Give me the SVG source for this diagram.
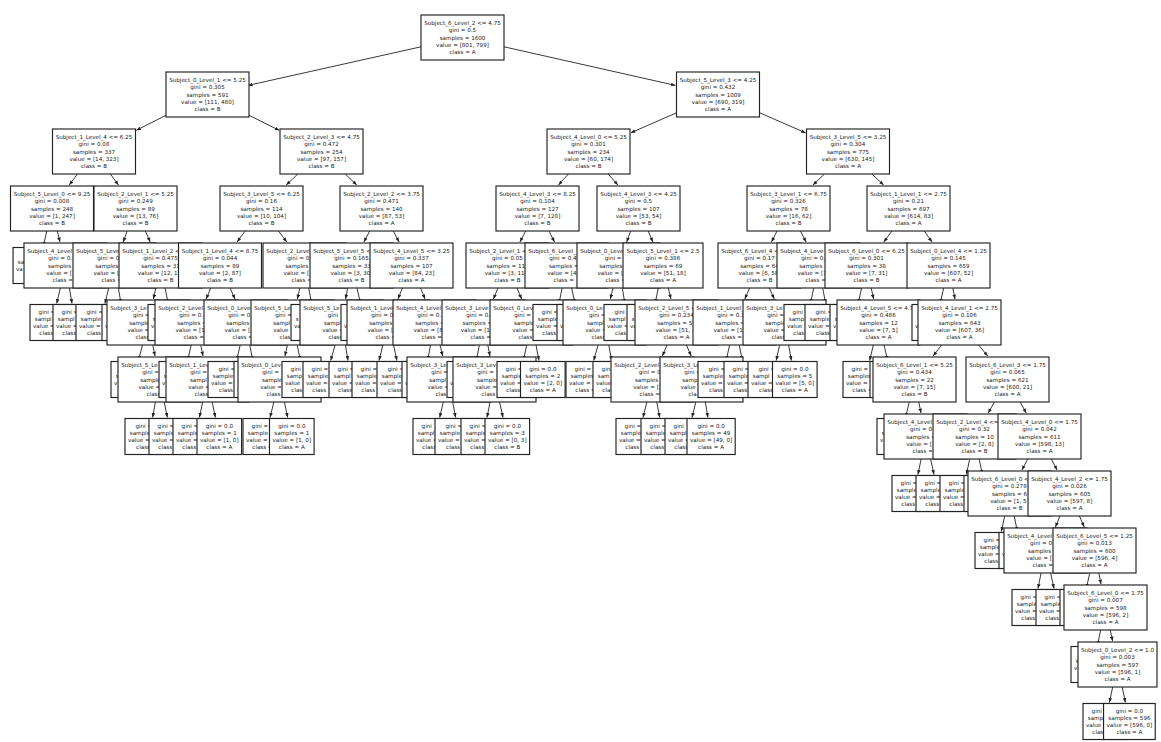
<svg xmlns="http://www.w3.org/2000/svg" width="1161" height="742" viewBox="0 0 1161 742">
<style>
#nodes rect{fill:#fff;stroke:#222;stroke-width:1.15}
#nodes text{font-family:"DejaVu Sans","Liberation Sans",sans-serif;font-size:5.6px;text-anchor:middle;fill:#1a1a1a}
#nodes text.p{text-anchor:start}
#edges line{stroke:#222;stroke-width:0.9;marker-end:url(#ah)}
</style>
<defs>
<marker id="ah" viewBox="0 0 10 10" refX="10" refY="5" markerUnits="userSpaceOnUse" markerWidth="4.5" markerHeight="4.5" orient="auto"><path d="M0,1 L10,5 L0,9 z" fill="#222"/></marker>
</defs>
<rect width="1161" height="742" fill="#fff"/>
<g id="edges">
<line x1="421" y1="46.8" x2="248" y2="85.4"/><line x1="504" y1="46.8" x2="675.5" y2="85.4"/>
<line x1="166" y1="115.3" x2="136.3" y2="130.3"/><line x1="249" y1="115.3" x2="279.2" y2="130.3"/>
<line x1="676.5" y1="112.8" x2="630.8" y2="132.8"/><line x1="759.5" y1="112.7" x2="805.7" y2="132.9"/>
<line x1="77.4" y1="174" x2="69.3" y2="185"/><line x1="110.4" y1="174" x2="118.4" y2="185"/>
<line x1="297.8" y1="174" x2="286.2" y2="185"/><line x1="345.2" y1="174" x2="356.8" y2="185"/>
<line x1="568.4" y1="174" x2="558.5" y2="185"/><line x1="608.2" y1="174" x2="617.9" y2="185"/>
<line x1="824.5" y1="174" x2="813" y2="185"/><line x1="871.9" y1="174" x2="883.6" y2="185"/>
<line x1="46.8" y1="231" x2="43.3" y2="246.5"/><line x1="57.3" y1="231" x2="59.9" y2="242"/>
<line x1="127.2" y1="231" x2="123.2" y2="242"/><line x1="145.4" y1="231" x2="150.2" y2="242"/>
<line x1="245.1" y1="231" x2="237.1" y2="242"/><line x1="278.5" y1="231" x2="286.8" y2="242"/>
<line x1="369.7" y1="231" x2="363.9" y2="242"/><line x1="393.3" y1="231" x2="399.1" y2="242"/>
<line x1="525.7" y1="231" x2="519.9" y2="242"/><line x1="549" y1="231" x2="554.5" y2="242"/>
<line x1="630.6" y1="231" x2="626.7" y2="242"/><line x1="648.2" y1="231" x2="652.9" y2="242"/>
<line x1="777" y1="231" x2="771.5" y2="242"/><line x1="800.4" y1="231" x2="806.1" y2="242"/>
<line x1="891.9" y1="231" x2="883.8" y2="242"/><line x1="924.3" y1="231" x2="932" y2="242"/>
<line x1="60.3" y1="288" x2="56.7" y2="303.5"/><line x1="69.4" y1="288" x2="72" y2="303.5"/>
<line x1="108.8" y1="288" x2="104.9" y2="303.5"/><line x1="118.4" y1="288" x2="121" y2="303.5"/>
<line x1="155.8" y1="288" x2="153.4" y2="299"/><line x1="165.1" y1="288" x2="168.2" y2="303.5"/>
<line x1="210.7" y1="288" x2="206.2" y2="299"/><line x1="230.1" y1="288" x2="235" y2="299"/>
<line x1="299.8" y1="288" x2="297.4" y2="299"/><line x1="308.7" y1="288" x2="311.6" y2="303.5"/>
<line x1="347.6" y1="288" x2="345.6" y2="299"/><line x1="356.9" y1="288" x2="360.6" y2="303.5"/>
<line x1="402.4" y1="288" x2="398" y2="299"/><line x1="420.6" y1="288" x2="425" y2="299"/>
<line x1="498" y1="288" x2="493.4" y2="299"/><line x1="517" y1="288" x2="521.6" y2="299"/>
<line x1="562.1" y1="288" x2="559" y2="303.5"/><line x1="571.6" y1="288" x2="575" y2="303.5"/>
<line x1="613" y1="288" x2="610.3" y2="299"/><line x1="622.3" y1="288" x2="624.9" y2="303.5"/>
<line x1="658.3" y1="288" x2="655.1" y2="303.5"/><line x1="668.3" y1="288" x2="670.9" y2="299"/>
<line x1="749.6" y1="288" x2="744.8" y2="299"/><line x1="769.4" y1="288" x2="774.2" y2="299"/>
<line x1="813.7" y1="288" x2="810.4" y2="303.5"/><line x1="822.7" y1="288" x2="825.6" y2="303.5"/>
<line x1="861.6" y1="288" x2="858.2" y2="303.5"/><line x1="871.2" y1="288" x2="873.6" y2="299"/>
<line x1="943.6" y1="288" x2="940.2" y2="303.5"/><line x1="952.8" y1="288" x2="955" y2="299"/>
<line x1="142.5" y1="345" x2="138.4" y2="360.5"/><line x1="152.8" y1="345" x2="155" y2="356"/>
<line x1="191.2" y1="345" x2="187.6" y2="360.5"/><line x1="200.8" y1="345" x2="203" y2="356"/>
<line x1="240.2" y1="345" x2="236.6" y2="360.5"/><line x1="249.8" y1="345" x2="252.7" y2="360.5"/>
<line x1="287.4" y1="345" x2="284.9" y2="356"/><line x1="297.2" y1="345" x2="300.4" y2="360.5"/>
<line x1="335.1" y1="345" x2="330.7" y2="360.5"/><line x1="345.4" y1="345" x2="348" y2="360.5"/>
<line x1="382.9" y1="345" x2="379" y2="360.5"/><line x1="393.5" y1="345" x2="396.9" y2="360.5"/>
<line x1="430.5" y1="345" x2="427.7" y2="360.5"/><line x1="440" y1="345" x2="442.7" y2="356"/>
<line x1="479.3" y1="345" x2="476.4" y2="360.5"/><line x1="487.8" y1="345" x2="490" y2="356"/>
<line x1="526.7" y1="345" x2="523.4" y2="360.5"/><line x1="536" y1="345" x2="539" y2="360.5"/>
<line x1="598.1" y1="345" x2="593.7" y2="360.5"/><line x1="608.8" y1="345" x2="611.7" y2="360.5"/>
<line x1="667" y1="345" x2="662.4" y2="356"/><line x1="686.4" y1="345" x2="691.2" y2="356"/>
<line x1="729.6" y1="345" x2="726.2" y2="360.5"/><line x1="739.2" y1="345" x2="742.4" y2="360.5"/>
<line x1="779.6" y1="345" x2="776.2" y2="360.5"/><line x1="788.6" y1="345" x2="791.4" y2="360.5"/>
<line x1="873.3" y1="345" x2="869.7" y2="360.5"/><line x1="884" y1="345" x2="887.7" y2="360.5"/>
<line x1="941.7" y1="345" x2="933.1" y2="356"/><line x1="978.5" y1="345" x2="987.7" y2="356"/>
<line x1="155.4" y1="402" x2="152.6" y2="417.5"/><line x1="164.2" y1="402" x2="167.4" y2="417.5"/>
<line x1="202.7" y1="402" x2="199.4" y2="417.5"/><line x1="212.2" y1="402" x2="215.4" y2="417.5"/>
<line x1="273.9" y1="402" x2="270" y2="417.5"/><line x1="284.4" y1="402" x2="287.7" y2="417.5"/>
<line x1="443.3" y1="402" x2="439.7" y2="417.5"/><line x1="452.7" y1="402" x2="455.6" y2="417.5"/>
<line x1="490.1" y1="402" x2="487" y2="417.5"/><line x1="499.6" y1="402" x2="503" y2="417.5"/>
<line x1="646.9" y1="402" x2="643" y2="417.5"/><line x1="656.8" y1="402" x2="659.7" y2="417.5"/>
<line x1="695.9" y1="402" x2="692" y2="417.5"/><line x1="705.3" y1="402" x2="707.9" y2="417.5"/>
<line x1="909.2" y1="402" x2="905.6" y2="417.5"/><line x1="918.8" y1="402" x2="921" y2="413"/>
<line x1="994.5" y1="402" x2="988.1" y2="413"/><line x1="1020.1" y1="402" x2="1026.3" y2="413"/>
<line x1="921.1" y1="459" x2="918" y2="474.5"/><line x1="930.6" y1="459" x2="934" y2="474.5"/>
<line x1="969.7" y1="459" x2="966.4" y2="474.5"/><line x1="979.2" y1="459" x2="982.4" y2="474.5"/>
<line x1="1027.7" y1="459" x2="1021.9" y2="470"/><line x1="1051.3" y1="459" x2="1057.1" y2="470"/>
<line x1="1004.7" y1="516" x2="1001.4" y2="531.5"/><line x1="1014.2" y1="516" x2="1017.4" y2="531.5"/>
<line x1="1060" y1="516" x2="1055.4" y2="527"/><line x1="1079.4" y1="516" x2="1084.2" y2="527"/>
<line x1="1041.1" y1="573" x2="1038" y2="588.5"/><line x1="1050.6" y1="573" x2="1054" y2="588.5"/>
<line x1="1089.7" y1="573" x2="1086.4" y2="588.5"/><line x1="1098.8" y1="573" x2="1101" y2="584"/>
<line x1="1100.7" y1="630" x2="1097.4" y2="645.5"/><line x1="1110.2" y1="630" x2="1112.6" y2="641"/>
<line x1="1112.7" y1="687" x2="1109.4" y2="702.5"/><line x1="1122.2" y1="687" x2="1125.4" y2="702.5"/>
</g>
<g id="nodes">
<g id="n1" transform="translate(462.5,37.5)"><rect x="-41.5" y="-22.5" width="83" height="45"/><text y="-12.6"><tspan x="0">Subject_6_Level_2 &lt;= 4.75</tspan><tspan x="0" dy="7.3">gini = 0.5</tspan><tspan x="0" dy="7.3">samples = 1600</tspan><tspan x="0" dy="7.3">value = [801, 799]</tspan><tspan x="0" dy="7.3">class = A</tspan></text></g>
<g id="n2" transform="translate(207.5,94.5)"><rect x="-41.5" y="-22.5" width="83" height="45"/><text y="-12.6"><tspan x="0">Subject_0_Level_1 &lt;= 5.25</tspan><tspan x="0" dy="7.3">gini = 0.305</tspan><tspan x="0" dy="7.3">samples = 591</tspan><tspan x="0" dy="7.3">value = [111, 480]</tspan><tspan x="0" dy="7.3">class = B</tspan></text></g>
<g id="n3" transform="translate(94,151.5)"><rect x="-41.5" y="-22.5" width="83" height="45"/><text y="-12.6"><tspan x="0">Subject_1_Level_4 &lt;= 6.25</tspan><tspan x="0" dy="7.3">gini = 0.08</tspan><tspan x="0" dy="7.3">samples = 337</tspan><tspan x="0" dy="7.3">value = [14, 323]</tspan><tspan x="0" dy="7.3">class = B</tspan></text></g>
<g id="n4" transform="translate(52,208.5)"><rect x="-41.5" y="-22.5" width="83" height="45"/><text y="-12.6"><tspan x="0">Subject_5_Level_0 &lt;= 9.25</tspan><tspan x="0" dy="7.3">gini = 0.008</tspan><tspan x="0" dy="7.3">samples = 248</tspan><tspan x="0" dy="7.3">value = [1, 247]</tspan><tspan x="0" dy="7.3">class = B</tspan></text></g>
<g id="n5" transform="translate(38.9,265.5)"><rect x="-25.85" y="-18" width="51.7" height="36"/><text class="p"><tspan x="-21.11" y="-1.65">sa</tspan><tspan x="-22.87" y="5.65">va</tspan></text></g>
<g id="n6" transform="translate(65.5,265.5)"><rect x="-41.5" y="-22.5" width="83" height="45"/><text class="p"><tspan x="-38.38" y="-12.6">Subject_4_Level</tspan><tspan x="-17.25" y="-5.3">gini = 0.</tspan><tspan x="-17.55" y="2">samples</tspan><tspan x="-19.3" y="9.3">value = [</tspan><tspan x="-13" y="16.6">class =</tspan></text></g>
<g id="n7" transform="translate(52.3,322.5)"><rect x="-22.3" y="-18" width="44.6" height="36"/><text class="p"><tspan x="-13.69" y="-8.95">gini =</tspan><tspan x="-17.55" y="-1.65">sampl</tspan><tspan x="-19.3" y="5.65">value =</tspan><tspan x="-13" y="12.95">class</tspan></text></g>
<g id="n8" transform="translate(75.3,322.5)"><rect x="-22.3" y="-18" width="44.6" height="36"/><text class="p"><tspan x="-13.69" y="-8.95">gini =</tspan><tspan x="-17.55" y="-1.65">sampl</tspan><tspan x="-19.3" y="5.65">value =</tspan><tspan x="-13" y="12.95">class</tspan></text></g>
<g id="n9" transform="translate(135.5,208.5)"><rect x="-41.5" y="-22.5" width="83" height="45"/><text y="-12.6"><tspan x="0">Subject_2_Level_1 &lt;= 5.25</tspan><tspan x="0" dy="7.3">gini = 0.249</tspan><tspan x="0" dy="7.3">samples = 89</tspan><tspan x="0" dy="7.3">value = [13, 76]</tspan><tspan x="0" dy="7.3">class = B</tspan></text></g>
<g id="n10" transform="translate(114.5,265.5)"><rect x="-41.5" y="-22.5" width="83" height="45"/><text class="p"><tspan x="-38.38" y="-12.6">Subject_5_Leve</tspan><tspan x="-17.25" y="-5.3">gini = 0</tspan><tspan x="-19.33" y="2">samples</tspan><tspan x="-21.09" y="9.3">value = [</tspan><tspan x="-13" y="16.6">class =</tspan></text></g>
<g id="n11" transform="translate(100.1,322.5)"><rect x="-24.1" y="-18" width="48.2" height="36"/><text class="p"><tspan x="-13.69" y="-8.95">gini =</tspan><tspan x="-19.33" y="-1.65">sample</tspan><tspan x="-21.09" y="5.65">value =</tspan><tspan x="-13" y="12.95">class</tspan></text></g>
<g id="n12" transform="translate(124.3,322.5)"><rect x="-22.3" y="-18" width="44.6" height="36"/><text class="p"><tspan x="-19.3" y="5.65">v</tspan></text></g>
<g id="n13" transform="translate(160.5,265.5)"><rect x="-41.5" y="-22.5" width="83" height="45"/><text class="p"><tspan x="-38.38" y="-12.6">Subject_1_Level_2 &lt;</tspan><tspan x="-17.25" y="-5.3">gini = 0.475</tspan><tspan x="-19.33" y="2">samples = 31</tspan><tspan x="-22.87" y="9.3">value = [12, 1</tspan><tspan x="-13" y="16.6">class = B</tspan></text></g>
<g id="n14" transform="translate(148.5,322.5)"><rect x="-41.5" y="-22.5" width="83" height="45"/><text class="p"><tspan x="-38.38" y="-12.6">Subject_3_Le</tspan><tspan x="-15.47" y="-5.3">gini =</tspan><tspan x="-19.33" y="2">sample</tspan><tspan x="-21.09" y="9.3">value =</tspan><tspan x="-13" y="16.6">class</tspan></text></g>
<g id="n15" transform="translate(133.3,379.5)"><rect x="-22.3" y="-18" width="44.6" height="36"/><text class="p"><tspan x="-17.55" y="-1.65">s</tspan><tspan x="-19.3" y="5.65">v</tspan></text></g>
<g id="n16" transform="translate(159.5,379.5)"><rect x="-41.5" y="-22.5" width="83" height="45"/><text class="p"><tspan x="-38.38" y="-12.6">Subject_5_Le</tspan><tspan x="-17.25" y="-5.3">gini =</tspan><tspan x="-19.33" y="2">sample</tspan><tspan x="-21.09" y="9.3">value =</tspan><tspan x="-13" y="16.6">class</tspan></text></g>
<g id="n17" transform="translate(149.1,436.5)"><rect x="-24.1" y="-18" width="48.2" height="36"/><text class="p"><tspan x="-13.69" y="-8.95">gini =</tspan><tspan x="-19.33" y="-1.65">sample</tspan><tspan x="-21.09" y="5.65">value =</tspan><tspan x="-13" y="12.95">class</tspan></text></g>
<g id="n18" transform="translate(171.3,436.5)"><rect x="-22.3" y="-18" width="44.6" height="36"/><text class="p"><tspan x="-13.69" y="-8.95">gini =</tspan><tspan x="-17.55" y="-1.65">sample</tspan><tspan x="-19.3" y="5.65">value =</tspan><tspan x="-13" y="12.95">class</tspan></text></g>
<g id="n19" transform="translate(172.1,322.5)"><rect x="-24.1" y="-18" width="48.2" height="36"/><text class="p"><tspan x="-19.33" y="-1.65">s</tspan><tspan x="-21.09" y="5.65">v</tspan></text></g>
<g id="n20" transform="translate(321.5,151.5)"><rect x="-41.5" y="-22.5" width="83" height="45"/><text y="-12.6"><tspan x="0">Subject_2_Level_3 &lt;= 4.75</tspan><tspan x="0" dy="7.3">gini = 0.472</tspan><tspan x="0" dy="7.3">samples = 254</tspan><tspan x="0" dy="7.3">value = [97, 157]</tspan><tspan x="0" dy="7.3">class = B</tspan></text></g>
<g id="n21" transform="translate(261.5,208.5)"><rect x="-41.5" y="-22.5" width="83" height="45"/><text y="-12.6"><tspan x="0">Subject_3_Level_5 &lt;= 6.25</tspan><tspan x="0" dy="7.3">gini = 0.16</tspan><tspan x="0" dy="7.3">samples = 114</tspan><tspan x="0" dy="7.3">value = [10, 104]</tspan><tspan x="0" dy="7.3">class = B</tspan></text></g>
<g id="n22" transform="translate(220,265.5)"><rect x="-41.5" y="-22.5" width="83" height="45"/><text y="-12.6"><tspan x="0">Subject_1_Level_4 &lt;= 8.75</tspan><tspan x="0" dy="7.3">gini = 0.044</tspan><tspan x="0" dy="7.3">samples = 89</tspan><tspan x="0" dy="7.3">value = [2, 87]</tspan><tspan x="0" dy="7.3">class = B</tspan></text></g>
<g id="n23" transform="translate(196.5,322.5)"><rect x="-41.5" y="-22.5" width="83" height="45"/><text class="p"><tspan x="-38.38" y="-12.6">Subject_2_Level</tspan><tspan x="-17.25" y="-5.3">gini = 0.</tspan><tspan x="-19.33" y="2">samples =</tspan><tspan x="-21.09" y="9.3">value = [1</tspan><tspan x="-13" y="16.6">class =</tspan></text></g>
<g id="n24" transform="translate(183.1,379.5)"><rect x="-24.1" y="-18" width="48.2" height="36"/><text class="p"><tspan x="-19.33" y="-1.65">s</tspan><tspan x="-21.09" y="5.65">v</tspan></text></g>
<g id="n25" transform="translate(207.5,379.5)"><rect x="-41.5" y="-22.5" width="83" height="45"/><text class="p"><tspan x="-38.38" y="-12.6">Subject_1_Lev</tspan><tspan x="-17.25" y="-5.3">gini =</tspan><tspan x="-17.55" y="2">sampl</tspan><tspan x="-19.3" y="9.3">value =</tspan><tspan x="-13" y="16.6">class</tspan></text></g>
<g id="n26" transform="translate(195.3,436.5)"><rect x="-22.3" y="-18" width="44.6" height="36"/><text class="p"><tspan x="-13.69" y="-8.95">gini =</tspan><tspan x="-17.55" y="-1.65">sample</tspan><tspan x="-19.3" y="5.65">value =</tspan><tspan x="-13" y="12.95">class</tspan></text></g>
<g id="n27" transform="translate(219.3,436.5)"><rect x="-22.3" y="-18" width="44.6" height="36"/><text y="-8.95"><tspan x="0">gini = 0.0</tspan><tspan x="0" dy="7.3">samples = 1</tspan><tspan x="0" dy="7.3">value = [1, 0]</tspan><tspan x="0" dy="7.3">class = A</tspan></text></g>
<g id="n28" transform="translate(245.5,322.5)"><rect x="-41.5" y="-22.5" width="83" height="45"/><text class="p"><tspan x="-38.38" y="-12.6">Subject_0_Leve</tspan><tspan x="-17.25" y="-5.3">gini = 0</tspan><tspan x="-19.33" y="2">samples</tspan><tspan x="-21.09" y="9.3">value = [</tspan><tspan x="-13" y="16.6">class =</tspan></text></g>
<g id="n29" transform="translate(232.1,379.5)"><rect x="-24.1" y="-18" width="48.2" height="36"/><text class="p"><tspan x="-13.69" y="-8.95">gini =</tspan><tspan x="-19.33" y="-1.65">sample</tspan><tspan x="-21.09" y="5.65">value =</tspan><tspan x="-13" y="12.95">class</tspan></text></g>
<g id="n30" transform="translate(256.3,379.5)"><rect x="-22.3" y="-18" width="44.6" height="36"/></g>
<g id="n31" transform="translate(304.5,265.5)"><rect x="-41.5" y="-22.5" width="83" height="45"/><text class="p"><tspan x="-38.38" y="-12.6">Subject_2_Leve</tspan><tspan x="-17.25" y="-5.3">gini = 0</tspan><tspan x="-19.33" y="2">samples</tspan><tspan x="-21.09" y="9.3">value = [</tspan><tspan x="-13" y="16.6">class =</tspan></text></g>
<g id="n32" transform="translate(292.5,322.5)"><rect x="-41.5" y="-22.5" width="83" height="45"/><text class="p"><tspan x="-38.38" y="-12.6">Subject_5_Le</tspan><tspan x="-17.25" y="-5.3">gini =</tspan><tspan x="-19.33" y="2">sampl</tspan><tspan x="-19.3" y="9.3">value</tspan><tspan x="-13" y="16.6">clas</tspan></text></g>
<g id="n33" transform="translate(279.5,379.5)"><rect x="-41.5" y="-22.5" width="83" height="45"/><text class="p"><tspan x="-38.38" y="-12.6">Subject_0_Lev</tspan><tspan x="-17.25" y="-5.3">gini =</tspan><tspan x="-17.55" y="2">sample</tspan><tspan x="-19.3" y="9.3">value =</tspan><tspan x="-13" y="16.6">class</tspan></text></g>
<g id="n34" transform="translate(265.3,436.5)"><rect x="-22.3" y="-18" width="44.6" height="36"/><text class="p"><tspan x="-13.69" y="-8.95">gini =</tspan><tspan x="-17.55" y="-1.65">sample</tspan><tspan x="-19.3" y="5.65">value =</tspan><tspan x="-13" y="12.95">class =</tspan></text></g>
<g id="n35" transform="translate(291.8,436.5)"><rect x="-22.3" y="-18" width="44.6" height="36"/><text y="-8.95"><tspan x="0">gini = 0.0</tspan><tspan x="0" dy="7.3">samples = 1</tspan><tspan x="0" dy="7.3">value = [1, 0]</tspan><tspan x="0" dy="7.3">class = A</tspan></text></g>
<g id="n36" transform="translate(304.3,379.5)"><rect x="-22.3" y="-18" width="44.6" height="36"/><text class="p"><tspan x="-13.69" y="-8.95">gini</tspan><tspan x="-17.55" y="-1.65">samp</tspan><tspan x="-19.3" y="5.65">value</tspan><tspan x="-13" y="12.95">clas</tspan></text></g>
<g id="n37" transform="translate(315.1,322.5)"><rect x="-24.1" y="-18" width="48.2" height="36"/><text class="p"><tspan x="-19.33" y="-1.65">s</tspan><tspan x="-21.09" y="5.65">va</tspan></text></g>
<g id="n38" transform="translate(381.5,208.5)"><rect x="-41.5" y="-22.5" width="83" height="45"/><text y="-12.6"><tspan x="0">Subject_2_Level_2 &lt;= 3.75</tspan><tspan x="0" dy="7.3">gini = 0.471</tspan><tspan x="0" dy="7.3">samples = 140</tspan><tspan x="0" dy="7.3">value = [87, 53]</tspan><tspan x="0" dy="7.3">class = A</tspan></text></g>
<g id="n39" transform="translate(351.5,265.5)"><rect x="-41.5" y="-22.5" width="83" height="45"/><text class="p"><tspan x="-38.38" y="-12.6">Subject_5_Level_5 &lt;</tspan><tspan x="-17.25" y="-5.3">gini = 0.165</tspan><tspan x="-19.33" y="2">samples = 33</tspan><tspan x="-21.09" y="9.3">value = [3, 30</tspan><tspan x="-13" y="16.6">class = B</tspan></text></g>
<g id="n40" transform="translate(341.5,322.5)"><rect x="-41.5" y="-22.5" width="83" height="45"/><text class="p"><tspan x="-38.38" y="-12.6">Subject_5_Le</tspan><tspan x="-13.69" y="-5.3">gini</tspan><tspan x="-17.55" y="2">sampl</tspan><tspan x="-19.3" y="9.3">value =</tspan><tspan x="-13" y="16.6">class</tspan></text></g>
<g id="n41" transform="translate(325.3,379.5)"><rect x="-22.3" y="-18" width="44.6" height="36"/><text class="p"><tspan x="-13.69" y="-8.95">gini =</tspan><tspan x="-17.55" y="-1.65">sample</tspan><tspan x="-19.3" y="5.65">value =</tspan><tspan x="-13" y="12.95">class</tspan></text></g>
<g id="n42" transform="translate(351.3,379.5)"><rect x="-22.3" y="-18" width="44.6" height="36"/><text class="p"><tspan x="-13.69" y="-8.95">gini =</tspan><tspan x="-17.55" y="-1.65">sampl</tspan><tspan x="-19.3" y="5.65">value =</tspan><tspan x="-13" y="12.95">class</tspan></text></g>
<g id="n43" transform="translate(365.1,322.5)"><rect x="-24.1" y="-18" width="48.2" height="36"/><text class="p"><tspan x="-21.09" y="5.65">v</tspan></text></g>
<g id="n44" transform="translate(411.5,265.5)"><rect x="-41.5" y="-22.5" width="83" height="45"/><text y="-12.6"><tspan x="0">Subject_4_Level_5 &lt;= 3.25</tspan><tspan x="0" dy="7.3">gini = 0.337</tspan><tspan x="0" dy="7.3">samples = 107</tspan><tspan x="0" dy="7.3">value = [84, 23]</tspan><tspan x="0" dy="7.3">class = A</tspan></text></g>
<g id="n45" transform="translate(388.5,322.5)"><rect x="-41.5" y="-22.5" width="83" height="45"/><text class="p"><tspan x="-38.38" y="-12.6">Subject_1_Leve</tspan><tspan x="-17.25" y="-5.3">gini = 0</tspan><tspan x="-19.33" y="2">samples</tspan><tspan x="-21.09" y="9.3">value = [</tspan><tspan x="-13" y="16.6">class =</tspan></text></g>
<g id="n46" transform="translate(374.3,379.5)"><rect x="-22.3" y="-18" width="44.6" height="36"/><text class="p"><tspan x="-13.69" y="-8.95">gini =</tspan><tspan x="-17.55" y="-1.65">sample</tspan><tspan x="-19.3" y="5.65">value =</tspan><tspan x="-13" y="12.95">class</tspan></text></g>
<g id="n47" transform="translate(401.1,379.5)"><rect x="-24.1" y="-18" width="48.2" height="36"/><text class="p"><tspan x="-13.69" y="-8.95">gini =</tspan><tspan x="-19.33" y="-1.65">sample</tspan><tspan x="-21.09" y="5.65">value =</tspan><tspan x="-13" y="12.95">class</tspan></text></g>
<g id="n48" transform="translate(434.5,322.5)"><rect x="-41.5" y="-22.5" width="83" height="45"/><text class="p"><tspan x="-38.38" y="-12.6">Subject_4_Level</tspan><tspan x="-17.25" y="-5.3">gini = 0.</tspan><tspan x="-19.33" y="2">samples =</tspan><tspan x="-21.09" y="9.3">value = [8</tspan><tspan x="-13" y="16.6">class =</tspan></text></g>
<g id="n49" transform="translate(424.3,379.5)"><rect x="-22.3" y="-18" width="44.6" height="36"/><text class="p"><tspan x="-19.3" y="5.65">v</tspan></text></g>
<g id="n50" transform="translate(448.5,379.5)"><rect x="-41.5" y="-22.5" width="83" height="45"/><text class="p"><tspan x="-38.38" y="-12.6">Subject_3_Le</tspan><tspan x="-17.25" y="-5.3">gini =</tspan><tspan x="-19.33" y="2">sampl</tspan><tspan x="-21.09" y="9.3">value =</tspan><tspan x="-13" y="16.6">clas</tspan></text></g>
<g id="n51" transform="translate(435.3,436.5)"><rect x="-22.3" y="-18" width="44.6" height="36"/><text class="p"><tspan x="-13.69" y="-8.95">gini</tspan><tspan x="-17.55" y="-1.65">sampl</tspan><tspan x="-19.3" y="5.65">value =</tspan><tspan x="-13" y="12.95">class</tspan></text></g>
<g id="n52" transform="translate(459.1,436.5)"><rect x="-24.1" y="-18" width="48.2" height="36"/><text class="p"><tspan x="-13.69" y="-8.95">gini =</tspan><tspan x="-19.33" y="-1.65">sample</tspan><tspan x="-21.09" y="5.65">value =</tspan><tspan x="-13" y="12.95">class</tspan></text></g>
<g id="n53" transform="translate(718,94.5)"><rect x="-41.5" y="-22.5" width="83" height="45"/><text y="-12.6"><tspan x="0">Subject_5_Level_3 &lt;= 4.25</tspan><tspan x="0" dy="7.3">gini = 0.432</tspan><tspan x="0" dy="7.3">samples = 1009</tspan><tspan x="0" dy="7.3">value = [690, 319]</tspan><tspan x="0" dy="7.3">class = A</tspan></text></g>
<g id="n54" transform="translate(588.5,151.5)"><rect x="-41.5" y="-22.5" width="83" height="45"/><text y="-12.6"><tspan x="0">Subject_4_Level_0 &lt;= 5.25</tspan><tspan x="0" dy="7.3">gini = 0.301</tspan><tspan x="0" dy="7.3">samples = 234</tspan><tspan x="0" dy="7.3">value = [60, 174]</tspan><tspan x="0" dy="7.3">class = B</tspan></text></g>
<g id="n55" transform="translate(537.5,208.5)"><rect x="-41.5" y="-22.5" width="83" height="45"/><text y="-12.6"><tspan x="0">Subject_4_Level_3 &lt;= 8.25</tspan><tspan x="0" dy="7.3">gini = 0.104</tspan><tspan x="0" dy="7.3">samples = 127</tspan><tspan x="0" dy="7.3">value = [7, 120]</tspan><tspan x="0" dy="7.3">class = B</tspan></text></g>
<g id="n56" transform="translate(507.5,265.5)"><rect x="-41.5" y="-22.5" width="83" height="45"/><text class="p"><tspan x="-38.38" y="-12.6">Subject_2_Level_1 &lt;</tspan><tspan x="-15.47" y="-5.3">gini = 0.05</tspan><tspan x="-21.11" y="2">samples = 11</tspan><tspan x="-22.87" y="9.3">value = [3, 11</tspan><tspan x="-13" y="16.6">class = B</tspan></text></g>
<g id="n57" transform="translate(483.5,322.5)"><rect x="-41.5" y="-22.5" width="83" height="45"/><text class="p"><tspan x="-38.38" y="-12.6">Subject_3_Leve</tspan><tspan x="-17.25" y="-5.3">gini = 0.</tspan><tspan x="-21.11" y="2">samples =</tspan><tspan x="-22.87" y="9.3">value = [1</tspan><tspan x="-13" y="16.6">class =</tspan></text></g>
<g id="n58" transform="translate(472.9,379.5)"><rect x="-25.85" y="-18" width="51.7" height="36"/><text class="p"><tspan x="-22.87" y="5.65">v</tspan></text></g>
<g id="n59" transform="translate(494.5,379.5)"><rect x="-41.5" y="-22.5" width="83" height="45"/><text class="p"><tspan x="-38.38" y="-12.6">Subject_3_Lev</tspan><tspan x="-17.25" y="-5.3">gini =</tspan><tspan x="-17.55" y="2">sample</tspan><tspan x="-19.3" y="9.3">value =</tspan><tspan x="-13" y="16.6">class</tspan></text></g>
<g id="n60" transform="translate(483.3,436.5)"><rect x="-22.3" y="-18" width="44.6" height="36"/><text class="p"><tspan x="-13.69" y="-8.95">gini =</tspan><tspan x="-17.55" y="-1.65">sample</tspan><tspan x="-19.3" y="5.65">value =</tspan><tspan x="-13" y="12.95">class</tspan></text></g>
<g id="n61" transform="translate(507.3,436.5)"><rect x="-22.3" y="-18" width="44.6" height="36"/><text y="-8.95"><tspan x="0">gini = 0.0</tspan><tspan x="0" dy="7.3">samples = 3</tspan><tspan x="0" dy="7.3">value = [0, 3]</tspan><tspan x="0" dy="7.3">class = B</tspan></text></g>
<g id="n62" transform="translate(531.5,322.5)"><rect x="-41.5" y="-22.5" width="83" height="45"/><text class="p"><tspan x="-38.38" y="-12.6">Subject_0_Lev</tspan><tspan x="-17.25" y="-5.3">gini =</tspan><tspan x="-17.55" y="2">sample</tspan><tspan x="-19.3" y="9.3">value =</tspan><tspan x="-13" y="16.6">class</tspan></text></g>
<g id="n63" transform="translate(519.3,379.5)"><rect x="-22.3" y="-18" width="44.6" height="36"/><text class="p"><tspan x="-13.69" y="-8.95">gini =</tspan><tspan x="-17.55" y="-1.65">sample</tspan><tspan x="-19.3" y="5.65">value =</tspan><tspan x="-13" y="12.95">class</tspan></text></g>
<g id="n64" transform="translate(542.8,379.5)"><rect x="-22.3" y="-18" width="44.6" height="36"/><text y="-8.95"><tspan x="0">gini = 0.0</tspan><tspan x="0" dy="7.3">samples = 2</tspan><tspan x="0" dy="7.3">value = [2, 0]</tspan><tspan x="0" dy="7.3">class = A</tspan></text></g>
<g id="n65" transform="translate(566.5,265.5)"><rect x="-41.5" y="-22.5" width="83" height="45"/><text class="p"><tspan x="-38.38" y="-12.6">Subject_6_Level_</tspan><tspan x="-17.25" y="-5.3">gini = 0.4</tspan><tspan x="-17.55" y="2">samples =</tspan><tspan x="-19.3" y="9.3">value = [4</tspan><tspan x="-13" y="16.6">class =</tspan></text></g>
<g id="n66" transform="translate(555.3,322.5)"><rect x="-22.3" y="-18" width="44.6" height="36"/><text class="p"><tspan x="-13.69" y="-8.95">gini =</tspan><tspan x="-17.55" y="-1.65">sample</tspan><tspan x="-19.3" y="5.65">value =</tspan><tspan x="-13" y="12.95">class</tspan></text></g>
<g id="n67" transform="translate(579.3,322.5)"><rect x="-22.3" y="-18" width="44.6" height="36"/><text class="p"><tspan x="-19.3" y="5.65">v</tspan></text></g>
<g id="n68" transform="translate(638.5,208.5)"><rect x="-41.5" y="-22.5" width="83" height="45"/><text y="-12.6"><tspan x="0">Subject_4_Level_3 &lt;= 4.25</tspan><tspan x="0" dy="7.3">gini = 0.5</tspan><tspan x="0" dy="7.3">samples = 107</tspan><tspan x="0" dy="7.3">value = [53, 54]</tspan><tspan x="0" dy="7.3">class = B</tspan></text></g>
<g id="n69" transform="translate(618.5,265.5)"><rect x="-41.5" y="-22.5" width="83" height="45"/><text class="p"><tspan x="-38.38" y="-12.6">Subject_0_Leve</tspan><tspan x="-13.69" y="-5.3">gini = 0</tspan><tspan x="-19.33" y="2">samples</tspan><tspan x="-21.09" y="9.3">value = [</tspan><tspan x="-13" y="16.6">class =</tspan></text></g>
<g id="n70" transform="translate(604.5,322.5)"><rect x="-41.5" y="-22.5" width="83" height="45"/><text class="p"><tspan x="-38.38" y="-12.6">Subject_0_Le</tspan><tspan x="-15.47" y="-5.3">gini =</tspan><tspan x="-17.55" y="2">sampl</tspan><tspan x="-19.3" y="9.3">value =</tspan><tspan x="-13" y="16.6">class</tspan></text></g>
<g id="n71" transform="translate(588.3,379.5)"><rect x="-22.3" y="-18" width="44.6" height="36"/><text class="p"><tspan x="-13.69" y="-8.95">gini =</tspan><tspan x="-17.55" y="-1.65">samples</tspan><tspan x="-19.3" y="5.65">value =</tspan><tspan x="-13" y="12.95">class =</tspan></text></g>
<g id="n72" transform="translate(615.3,379.5)"><rect x="-22.3" y="-18" width="44.6" height="36"/><text class="p"><tspan x="-13.69" y="-8.95">gin</tspan><tspan x="-17.55" y="-1.65">sam</tspan><tspan x="-19.3" y="5.65">value</tspan><tspan x="-13" y="12.95">cla</tspan></text></g>
<g id="n73" transform="translate(628.1,322.5)"><rect x="-24.1" y="-18" width="48.2" height="36"/><text class="p"><tspan x="-13.69" y="-8.95">gini</tspan><tspan x="-19.33" y="-1.65">sampl</tspan><tspan x="-21.09" y="5.65">value =</tspan><tspan x="-13" y="12.95">clas</tspan></text></g>
<g id="n74" transform="translate(663,265.5)"><rect x="-40" y="-22.5" width="80" height="45"/><text y="-12.6"><tspan x="0">Subject_5_Level_1 &lt;= 2.5</tspan><tspan x="0" dy="7.3">gini = 0.386</tspan><tspan x="0" dy="7.3">samples = 69</tspan><tspan x="0" dy="7.3">value = [51, 18]</tspan><tspan x="0" dy="7.3">class = A</tspan></text></g>
<g id="n75" transform="translate(651.1,322.5)"><rect x="-24.1" y="-18" width="48.2" height="36"/><text class="p"><tspan x="-19.33" y="-1.65">s</tspan><tspan x="-21.09" y="5.65">va</tspan></text></g>
<g id="n76" transform="translate(676.5,322.5)"><rect x="-41.5" y="-22.5" width="83" height="45"/><text class="p"><tspan x="-38.38" y="-12.6">Subject_2_Level_5 &lt;</tspan><tspan x="-17.25" y="-5.3">gini = 0.234</tspan><tspan x="-19.33" y="2">samples = 5</tspan><tspan x="-21.09" y="9.3">value = [51,</tspan><tspan x="-13" y="16.6">class = A</tspan></text></g>
<g id="n77" transform="translate(652.5,379.5)"><rect x="-41.5" y="-22.5" width="83" height="45"/><text class="p"><tspan x="-38.38" y="-12.6">Subject_2_Level</tspan><tspan x="-13.69" y="-5.3">gini = 0.5</tspan><tspan x="-17.55" y="2">samples</tspan><tspan x="-19.3" y="9.3">value = [2</tspan><tspan x="-13" y="16.6">class =</tspan></text></g>
<g id="n78" transform="translate(638.3,436.5)"><rect x="-22.3" y="-18" width="44.6" height="36"/><text class="p"><tspan x="-13.69" y="-8.95">gini =</tspan><tspan x="-17.55" y="-1.65">sample</tspan><tspan x="-19.3" y="5.65">value =</tspan><tspan x="-13" y="12.95">class</tspan></text></g>
<g id="n79" transform="translate(663.3,436.5)"><rect x="-22.3" y="-18" width="44.6" height="36"/><text class="p"><tspan x="-13.69" y="-8.95">gini =</tspan><tspan x="-17.55" y="-1.65">sample</tspan><tspan x="-19.3" y="5.65">value =</tspan><tspan x="-13" y="12.95">class</tspan></text></g>
<g id="n80" transform="translate(701.5,379.5)"><rect x="-41.5" y="-22.5" width="83" height="45"/><text class="p"><tspan x="-38.38" y="-12.6">Subject_3_Le</tspan><tspan x="-17.25" y="-5.3">gini =</tspan><tspan x="-19.33" y="2">samp</tspan><tspan x="-21.09" y="9.3">value</tspan><tspan x="-13" y="16.6">cla</tspan></text></g>
<g id="n81" transform="translate(687.3,436.5)"><rect x="-22.3" y="-18" width="44.6" height="36"/><text class="p"><tspan x="-13.69" y="-8.95">gini</tspan><tspan x="-17.55" y="-1.65">sampl</tspan><tspan x="-19.3" y="5.65">value =</tspan><tspan x="-13" y="12.95">class</tspan></text></g>
<g id="n82" transform="translate(711.1,436.5)"><rect x="-24.1" y="-18" width="48.2" height="36"/><text y="-8.95"><tspan x="0">gini = 0.0</tspan><tspan x="0" dy="7.3">samples = 49</tspan><tspan x="0" dy="7.3">value = [49, 0]</tspan><tspan x="0" dy="7.3">class = A</tspan></text></g>
<g id="n83" transform="translate(848,151.5)"><rect x="-41.5" y="-22.5" width="83" height="45"/><text y="-12.6"><tspan x="0">Subject_3_Level_5 &lt;= 3.25</tspan><tspan x="0" dy="7.3">gini = 0.304</tspan><tspan x="0" dy="7.3">samples = 775</tspan><tspan x="0" dy="7.3">value = [630, 145]</tspan><tspan x="0" dy="7.3">class = A</tspan></text></g>
<g id="n84" transform="translate(788.5,208.5)"><rect x="-41.5" y="-22.5" width="83" height="45"/><text y="-12.6"><tspan x="0">Subject_3_Level_1 &lt;= 6.75</tspan><tspan x="0" dy="7.3">gini = 0.326</tspan><tspan x="0" dy="7.3">samples = 78</tspan><tspan x="0" dy="7.3">value = [16, 62]</tspan><tspan x="0" dy="7.3">class = B</tspan></text></g>
<g id="n85" transform="translate(759.5,265.5)"><rect x="-41.5" y="-22.5" width="83" height="45"/><text class="p"><tspan x="-38.38" y="-12.6">Subject_6_Level_4 &lt;</tspan><tspan x="-15.47" y="-5.3">gini = 0.17</tspan><tspan x="-19.33" y="2">samples = 64</tspan><tspan x="-21.09" y="9.3">value = [6, 58</tspan><tspan x="-13" y="16.6">class = B</tspan></text></g>
<g id="n86" transform="translate(734.5,322.5)"><rect x="-41.5" y="-22.5" width="83" height="45"/><text class="p"><tspan x="-38.38" y="-12.6">Subject_1_Level_</tspan><tspan x="-17.25" y="-5.3">gini = 0.1</tspan><tspan x="-19.33" y="2">samples =</tspan><tspan x="-21.09" y="9.3">value = [1</tspan><tspan x="-13" y="16.6">class =</tspan></text></g>
<g id="n87" transform="translate(722.1,379.5)"><rect x="-24.1" y="-18" width="48.2" height="36"/><text class="p"><tspan x="-13.69" y="-8.95">gini =</tspan><tspan x="-19.33" y="-1.65">sample</tspan><tspan x="-21.09" y="5.65">value =</tspan><tspan x="-13" y="12.95">class</tspan></text></g>
<g id="n88" transform="translate(746.3,379.5)"><rect x="-22.3" y="-18" width="44.6" height="36"/><text class="p"><tspan x="-13.69" y="-8.95">gini =</tspan><tspan x="-17.55" y="-1.65">sample</tspan><tspan x="-19.3" y="5.65">value =</tspan><tspan x="-13" y="12.95">class</tspan></text></g>
<g id="n89" transform="translate(784.5,322.5)"><rect x="-41.5" y="-22.5" width="83" height="45"/><text class="p"><tspan x="-38.38" y="-12.6">Subject_3_Le</tspan><tspan x="-17.25" y="-5.3">gini =</tspan><tspan x="-19.33" y="2">sample</tspan><tspan x="-21.09" y="9.3">value =</tspan><tspan x="-13" y="16.6">class</tspan></text></g>
<g id="n90" transform="translate(772.1,379.5)"><rect x="-24.1" y="-18" width="48.2" height="36"/><text class="p"><tspan x="-13.69" y="-8.95">gini =</tspan><tspan x="-19.33" y="-1.65">sampl</tspan><tspan x="-21.09" y="5.65">value =</tspan><tspan x="-13" y="12.95">class</tspan></text></g>
<g id="n91" transform="translate(794.8,379.5)"><rect x="-22.3" y="-18" width="44.6" height="36"/><text y="-8.95"><tspan x="0">gini = 0.0</tspan><tspan x="0" dy="7.3">samples = 5</tspan><tspan x="0" dy="7.3">value = [5, 0]</tspan><tspan x="0" dy="7.3">class = A</tspan></text></g>
<g id="n92" transform="translate(818.5,265.5)"><rect x="-41.5" y="-22.5" width="83" height="45"/><text class="p"><tspan x="-38.38" y="-12.6">Subject_4_Leve</tspan><tspan x="-17.25" y="-5.3">gini = 0.</tspan><tspan x="-19.33" y="2">samples</tspan><tspan x="-21.09" y="9.3">value = [1</tspan><tspan x="-13" y="16.6">class =</tspan></text></g>
<g id="n93" transform="translate(806.3,322.5)"><rect x="-22.3" y="-18" width="44.6" height="36"/><text class="p"><tspan x="-13.69" y="-8.95">gini</tspan><tspan x="-17.55" y="-1.65">samp</tspan><tspan x="-19.3" y="5.65">value</tspan><tspan x="-13" y="12.95">clas</tspan></text></g>
<g id="n94" transform="translate(829.1,322.5)"><rect x="-24.1" y="-18" width="48.2" height="36"/><text class="p"><tspan x="-13.69" y="-8.95">gini =</tspan><tspan x="-19.33" y="-1.65">sample</tspan><tspan x="-21.09" y="5.65">value =</tspan><tspan x="-13" y="12.95">class</tspan></text></g>
<g id="n95" transform="translate(908.5,208.5)"><rect x="-41.5" y="-22.5" width="83" height="45"/><text y="-12.6"><tspan x="0">Subject_1_Level_1 &lt;= 2.75</tspan><tspan x="0" dy="7.3">gini = 0.21</tspan><tspan x="0" dy="7.3">samples = 697</tspan><tspan x="0" dy="7.3">value = [614, 83]</tspan><tspan x="0" dy="7.3">class = A</tspan></text></g>
<g id="n96" transform="translate(866.5,265.5)"><rect x="-41.5" y="-22.5" width="83" height="45"/><text y="-12.6"><tspan x="0">Subject_6_Level_0 &lt;= 6.25</tspan><tspan x="0" dy="7.3">gini = 0.301</tspan><tspan x="0" dy="7.3">samples = 38</tspan><tspan x="0" dy="7.3">value = [7, 31]</tspan><tspan x="0" dy="7.3">class = B</tspan></text></g>
<g id="n97" transform="translate(854.1,322.5)"><rect x="-24.1" y="-18" width="48.2" height="36"/><text class="p"><tspan x="-19.33" y="-1.65">s</tspan><tspan x="-21.09" y="5.65">v</tspan></text></g>
<g id="n98" transform="translate(878.5,322.5)"><rect x="-41.5" y="-22.5" width="83" height="45"/><text class="p"><tspan x="-38.38" y="-12.6">Subject_4_Level_5 &lt;= 4.7</tspan><tspan x="-17.25" y="-5.3">gini = 0.486</tspan><tspan x="-19.33" y="2">samples = 12</tspan><tspan x="-19.3" y="9.3">value = [7, 5]</tspan><tspan x="-13" y="16.6">class = A</tspan></text></g>
<g id="n99" transform="translate(865.3,379.5)"><rect x="-22.3" y="-18" width="44.6" height="36"/><text class="p"><tspan x="-13.69" y="-8.95">gini =</tspan><tspan x="-17.55" y="-1.65">samples</tspan><tspan x="-19.3" y="5.65">value =</tspan><tspan x="-13" y="12.95">class =</tspan></text></g>
<g id="n100" transform="translate(892.3,379.5)"><rect x="-22.3" y="-18" width="44.6" height="36"/></g>
<g id="n101" transform="translate(948.5,265.5)"><rect x="-41.5" y="-22.5" width="83" height="45"/><text y="-12.6"><tspan x="0">Subject_0_Level_4 &lt;= 1.25</tspan><tspan x="0" dy="7.3">gini = 0.145</tspan><tspan x="0" dy="7.3">samples = 659</tspan><tspan x="0" dy="7.3">value = [607, 52]</tspan><tspan x="0" dy="7.3">class = A</tspan></text></g>
<g id="n102" transform="translate(936.1,322.5)"><rect x="-24.1" y="-18" width="48.2" height="36"/><text class="p"><tspan x="-21.09" y="5.65">v</tspan></text></g>
<g id="n103" transform="translate(959.5,322.5)"><rect x="-41.5" y="-22.5" width="83" height="45"/><text y="-12.6"><tspan x="0">Subject_4_Level_1 &lt;= 2.75</tspan><tspan x="0" dy="7.3">gini = 0.106</tspan><tspan x="0" dy="7.3">samples = 643</tspan><tspan x="0" dy="7.3">value = [607, 36]</tspan><tspan x="0" dy="7.3">class = A</tspan></text></g>
<g id="n104" transform="translate(914.5,379.5)"><rect x="-41.5" y="-22.5" width="83" height="45"/><text y="-12.6"><tspan x="0">Subject_6_Level_1 &lt;= 5.25</tspan><tspan x="0" dy="7.3">gini = 0.434</tspan><tspan x="0" dy="7.3">samples = 22</tspan><tspan x="0" dy="7.3">value = [7, 15]</tspan><tspan x="0" dy="7.3">class = B</tspan></text></g>
<g id="n105" transform="translate(901.1,436.5)"><rect x="-24.1" y="-18" width="48.2" height="36"/><text class="p"><tspan x="-19.33" y="-1.65">s</tspan><tspan x="-21.09" y="5.65">v</tspan></text></g>
<g id="n106" transform="translate(925.5,436.5)"><rect x="-41.5" y="-22.5" width="83" height="45"/><text class="p"><tspan x="-38.38" y="-12.6">Subject_4_Level</tspan><tspan x="-15.47" y="-5.3">gini = 0</tspan><tspan x="-19.33" y="2">samples =</tspan><tspan x="-19.3" y="9.3">value = [</tspan><tspan x="-13" y="16.6">class =</tspan></text></g>
<g id="n107" transform="translate(914.3,493.5)"><rect x="-22.3" y="-18" width="44.6" height="36"/><text class="p"><tspan x="-13.69" y="-8.95">gini =</tspan><tspan x="-17.55" y="-1.65">sample</tspan><tspan x="-19.3" y="5.65">value =</tspan><tspan x="-13" y="12.95">class</tspan></text></g>
<g id="n108" transform="translate(938.3,493.5)"><rect x="-22.3" y="-18" width="44.6" height="36"/><text class="p"><tspan x="-13.69" y="-8.95">gini =</tspan><tspan x="-17.55" y="-1.65">sample</tspan><tspan x="-19.3" y="5.65">value =</tspan><tspan x="-13" y="12.95">class</tspan></text></g>
<g id="n109" transform="translate(1007.5,379.5)"><rect x="-41.5" y="-22.5" width="83" height="45"/><text y="-12.6"><tspan x="0">Subject_6_Level_3 &lt;= 1.75</tspan><tspan x="0" dy="7.3">gini = 0.065</tspan><tspan x="0" dy="7.3">samples = 621</tspan><tspan x="0" dy="7.3">value = [600, 21]</tspan><tspan x="0" dy="7.3">class = A</tspan></text></g>
<g id="n110" transform="translate(974.5,436.5)"><rect x="-41.5" y="-22.5" width="83" height="45"/><text class="p"><tspan x="-38.38" y="-12.6">Subject_2_Level_4 &lt;=</tspan><tspan x="-15.47" y="-5.3">gini = 0.32</tspan><tspan x="-19.33" y="2">samples = 10</tspan><tspan x="-19.3" y="9.3">value = [2, 8]</tspan><tspan x="-13" y="16.6">class = B</tspan></text></g>
<g id="n111" transform="translate(962.3,493.5)"><rect x="-22.3" y="-18" width="44.6" height="36"/><text class="p"><tspan x="-13.69" y="-8.95">gini =</tspan><tspan x="-17.55" y="-1.65">sample</tspan><tspan x="-19.3" y="5.65">value =</tspan><tspan x="-13" y="12.95">class</tspan></text></g>
<g id="n112" transform="translate(986.3,493.5)"><rect x="-22.3" y="-18" width="44.6" height="36"/></g>
<g id="n113" transform="translate(1039.5,436.5)"><rect x="-41.5" y="-22.5" width="83" height="45"/><text y="-12.6"><tspan x="0">Subject_4_Level_0 &lt;= 1.75</tspan><tspan x="0" dy="7.3">gini = 0.042</tspan><tspan x="0" dy="7.3">samples = 611</tspan><tspan x="0" dy="7.3">value = [598, 13]</tspan><tspan x="0" dy="7.3">class = A</tspan></text></g>
<g id="n114" transform="translate(1009.5,493.5)"><rect x="-41.5" y="-22.5" width="83" height="45"/><text class="p"><tspan x="-38.38" y="-12.6">Subject_6_Level_0 &lt;</tspan><tspan x="-17.25" y="-5.3">gini = 0.278</tspan><tspan x="-17.55" y="2">samples = 6</tspan><tspan x="-19.3" y="9.3">value = [1, 5</tspan><tspan x="-13" y="16.6">class = B</tspan></text></g>
<g id="n115" transform="translate(997.3,550.5)"><rect x="-22.3" y="-18" width="44.6" height="36"/><text class="p"><tspan x="-13.69" y="-8.95">gini =</tspan><tspan x="-17.55" y="-1.65">sample</tspan><tspan x="-19.3" y="5.65">value =</tspan><tspan x="-13" y="12.95">class</tspan></text></g>
<g id="n116" transform="translate(1021.3,550.5)"><rect x="-22.3" y="-18" width="44.6" height="36"/><text class="p"><tspan x="-19.3" y="5.65">v</tspan></text></g>
<g id="n117" transform="translate(1069.5,493.5)"><rect x="-41.5" y="-22.5" width="83" height="45"/><text y="-12.6"><tspan x="0">Subject_4_Level_2 &lt;= 1.75</tspan><tspan x="0" dy="7.3">gini = 0.026</tspan><tspan x="0" dy="7.3">samples = 605</tspan><tspan x="0" dy="7.3">value = [597, 8]</tspan><tspan x="0" dy="7.3">class = A</tspan></text></g>
<g id="n118" transform="translate(1045.5,550.5)"><rect x="-41.5" y="-22.5" width="83" height="45"/><text class="p"><tspan x="-38.38" y="-12.6">Subject_4_Level</tspan><tspan x="-15.47" y="-5.3">gini = 0</tspan><tspan x="-17.55" y="2">samples</tspan><tspan x="-19.3" y="9.3">value = [</tspan><tspan x="-13" y="16.6">class =</tspan></text></g>
<g id="n119" transform="translate(1034.3,607.5)"><rect x="-22.3" y="-18" width="44.6" height="36"/><text class="p"><tspan x="-13.69" y="-8.95">gini =</tspan><tspan x="-17.55" y="-1.65">sample</tspan><tspan x="-19.3" y="5.65">value =</tspan><tspan x="-13" y="12.95">class</tspan></text></g>
<g id="n120" transform="translate(1058.3,607.5)"><rect x="-22.3" y="-18" width="44.6" height="36"/><text class="p"><tspan x="-13.69" y="-8.95">gini =</tspan><tspan x="-17.55" y="-1.65">sample</tspan><tspan x="-19.3" y="5.65">value =</tspan><tspan x="-13" y="12.95">class</tspan></text></g>
<g id="n121" transform="translate(1094.5,550.5)"><rect x="-41.5" y="-22.5" width="83" height="45"/><text y="-12.6"><tspan x="0">Subject_6_Level_5 &lt;= 1.25</tspan><tspan x="0" dy="7.3">gini = 0.013</tspan><tspan x="0" dy="7.3">samples = 600</tspan><tspan x="0" dy="7.3">value = [596, 4]</tspan><tspan x="0" dy="7.3">class = A</tspan></text></g>
<g id="n122" transform="translate(1082.3,607.5)"><rect x="-22.3" y="-18" width="44.6" height="36"/></g>
<g id="n123" transform="translate(1105.5,607.5)"><rect x="-41.5" y="-22.5" width="83" height="45"/><text y="-12.6"><tspan x="0">Subject_6_Level_0 &lt;= 1.75</tspan><tspan x="0" dy="7.3">gini = 0.007</tspan><tspan x="0" dy="7.3">samples = 598</tspan><tspan x="0" dy="7.3">value = [596, 2]</tspan><tspan x="0" dy="7.3">class = A</tspan></text></g>
<g id="n124" transform="translate(1093.3,664.5)"><rect x="-22.3" y="-18" width="44.6" height="36"/><text class="p"><tspan x="-17.55" y="-1.65">s</tspan><tspan x="-19.3" y="5.65">v</tspan></text></g>
<g id="n125" transform="translate(1117.5,664.5)"><rect x="-39.5" y="-22.5" width="79" height="45"/><text y="-12.6"><tspan x="0">Subject_0_Level_2 &lt;= 1.0</tspan><tspan x="0" dy="7.3">gini = 0.003</tspan><tspan x="0" dy="7.3">samples = 597</tspan><tspan x="0" dy="7.3">value = [596, 1]</tspan><tspan x="0" dy="7.3">class = A</tspan></text></g>
<g id="n126" transform="translate(1105.3,721.5)"><rect x="-22.3" y="-18" width="44.6" height="36"/><text class="p"><tspan x="-13.69" y="-8.95">gini</tspan><tspan x="-17.55" y="-1.65">samp</tspan><tspan x="-19.3" y="5.65">value</tspan><tspan x="-13" y="12.95">clas</tspan></text></g>
<g id="n127" transform="translate(1129.4,721.5)"><rect x="-25.85" y="-18" width="51.7" height="36"/><text y="-8.95"><tspan x="0">gini = 0.0</tspan><tspan x="0" dy="7.3">samples = 596</tspan><tspan x="0" dy="7.3">value = [596, 0]</tspan><tspan x="0" dy="7.3">class = A</tspan></text></g>
</g>
</svg>
